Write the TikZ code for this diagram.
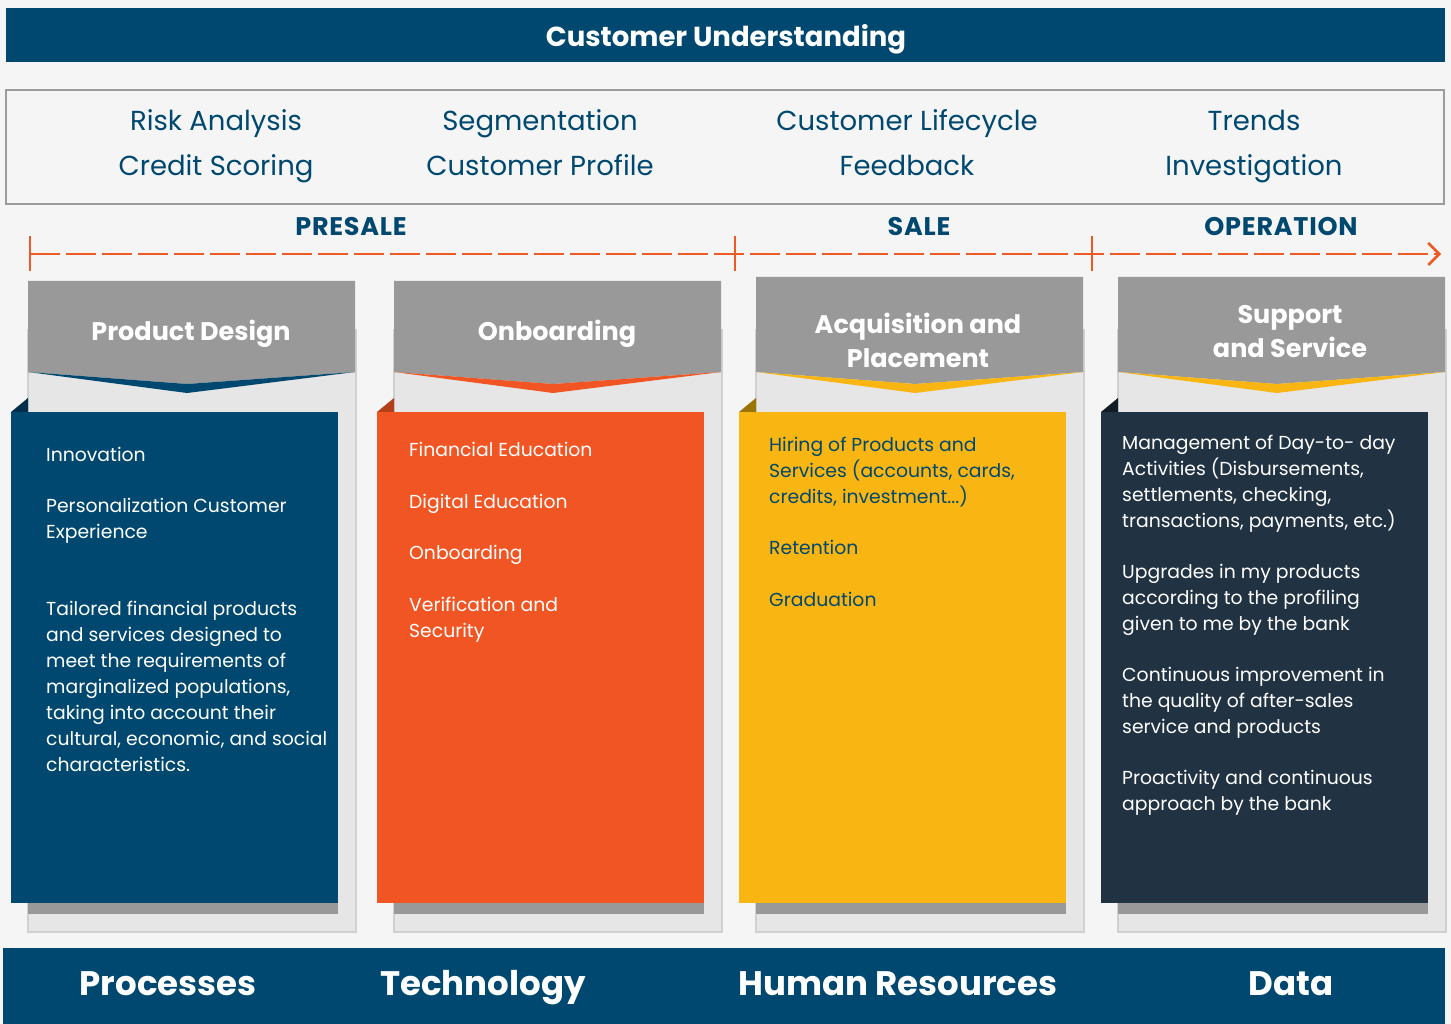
\documentclass[tikz,border=0pt]{standalone}
\usepackage{fontspec}
\setmainfont{Poppins}
\newfontfamily\widefont{Poppins}[LetterSpace=3]
\usetikzlibrary{arrows.meta}
\definecolor{bg}{HTML}{F5F5F5}
\definecolor{dblue}{HTML}{00486F}
\definecolor{dbluefold}{HTML}{00304B}
\definecolor{orng}{HTML}{F05523}
\definecolor{orngfold}{HTML}{B3401A}
\definecolor{yell}{HTML}{F9B613}
\definecolor{yellfold}{HTML}{9A7405}
\definecolor{navy}{HTML}{213243}
\definecolor{navyfold}{HTML}{121C26}
\definecolor{hdrgray}{HTML}{999999}
\definecolor{cardgray}{HTML}{E6E6E6}
\definecolor{cardline}{HTML}{D0D0D0}
\definecolor{boxline}{HTML}{9B9B9B}
\definecolor{arrowor}{HTML}{EE5A24}
\tikzset{
  bodytxt/.style={anchor=north west, inner sep=0pt, align=left, font=\fontsize{18.8}{26}\selectfont},
  hdrtxt/.style={anchor=north, inner sep=0pt, align=center, text=white, font=\fontsize{25.5}{34}\selectfont\bfseries},
  hdronetxt/.style={anchor=base, inner sep=0pt, text=white, font=\fontsize{25.5}{34}\selectfont\bfseries},
  phasetxt/.style={anchor=base, inner sep=0pt, text=dblue, font=\widefont\fontsize{25.5}{30}\selectfont\bfseries},
  toptxt/.style={anchor=base, inner sep=0pt, text=dblue, font=\fontsize{27.5}{34}\selectfont},
  bandtxt/.style={anchor=base, inner sep=0pt, text=white, font=\fontsize{34}{40}\selectfont\bfseries},
  tickline/.style={draw=arrowor, line width=2.5pt},
}
% #1 card left x, #2 header top y, #3 box colour, #4 fold colour, #5 chevron colour
\newcommand{\mkcolumn}[5]{%
  \pgfmathsetmacro{\xl}{#1}
  \pgfmathsetmacro{\xr}{#1+327}
  \pgfmathsetmacro{\cx}{#1+159}
  \pgfmathsetmacro{\bl}{#1-17}
  \pgfmathsetmacro{\br}{#1+310}
  \fill[cardgray, draw=cardline, line width=2pt] (\xl,330) rectangle (\xr+1,932);
  \fill[hdrgray] (\xl,#2) -- (\xr,#2) -- (\xr,372) -- (\cx,384) -- (\xl,372) -- cycle;
  \fill[#5] (\xl,372) -- (\cx,384) -- (\xr,372) -- (\cx,393) -- cycle;
  \fill[hdrgray] (\xl,914) rectangle (\br,903);
  \fill[#4] (\bl,412) -- (\xl,398) -- (\xl,412) -- cycle;
  \fill[#3] (\bl,412) rectangle (\br,903);
}
\begin{document}
\begin{tikzpicture}[x=1pt,y=-1pt]
\useasboundingbox[fill=bg] (0,0) rectangle (1451,1024);
% top band
\fill[dblue] (6,8) rectangle (1445,62);
\node[anchor=base, inner sep=0pt, text=white, font=\fontsize{27.5}{30}\selectfont\bfseries] (title) at (726,47) {Customer Understanding};
% top box
\draw[boxline, line width=2.5pt] (6,90) rectangle (1444,204);
\node[toptxt] (ra) at (216,131) {Risk Analysis};
\node[toptxt] (cs) at (216,176) {Credit Scoring};
\node[toptxt] (sg) at (540,131) {Segmentation};
\node[toptxt] (cp) at (540,176) {Customer Profile};
\node[toptxt] (cl) at (907,131) {Customer Lifecycle};
\node[toptxt] (fb) at (907,176) {Feedback};
\node[toptxt] (tr) at (1254,131) {Trends};
\node[toptxt] (iv) at (1254,176) {Investigation};
% phases
\node[phasetxt] (presale) at (351,236) {PRESALE};
\node[phasetxt] (sale) at (919,236) {SALE};
\node[phasetxt] (oper) at (1281,236) {OPERATION};
\coordinate (a0) at (30,254);
\coordinate (a1) at (735,254);
\coordinate (a2) at (1092,254);
\coordinate (aend) at (1441,254);
\draw[arrowor, line width=2.5pt, dash pattern=on 30pt off 6pt, -{Straight Barb[length=11pt,width=22pt,line width=2.5pt]}] (a0) -- (aend);
\draw[tickline] ([yshift=-17pt]a0) -- ([yshift=18pt]a0);
\draw[tickline] ([yshift=-17pt]a1) -- ([yshift=18pt]a1);
\draw[tickline] ([yshift=-17pt]a2) -- ([yshift=18pt]a2);
% columns
\mkcolumn{28}{281}{dblue}{dbluefold}{dblue}
\mkcolumn{394}{281}{orng}{orngfold}{orng}
\mkcolumn{756}{277}{yell}{yellfold}{yell}
\mkcolumn{1118}{277}{navy}{navyfold}{yell}
% headers
\node[hdronetxt] (h1) at (191,340) {Product Design};
\node[hdronetxt] (h2) at (557,340) {Onboarding};
\node[hdrtxt] (h3) at (918,333-23.8) {\strut Acquisition and\\Placement};
\node[hdrtxt] (h4) at (1290,323-23.8) {\strut Support\\and Service};
% column 1 text
\node[bodytxt, text=white] (c1a) at (46,461-18.2) {\strut Innovation};
\node[bodytxt, text=white] (c1b) at (46,512-18.2) {\strut Personalization Customer\\Experience};
\node[bodytxt, text=white] (c1c) at (46,615-18.2) {\strut Tailored financial products\\and services designed to\\meet the requirements of\\marginalized populations,\\taking into account their\\cultural, economic, and social\\characteristics.};
% column 2 text
\node[bodytxt, text=white] (c2a) at (409,456-18.2) {\strut Financial Education};
\node[bodytxt, text=white] (c2b) at (409,508-18.2) {\strut Digital Education};
\node[bodytxt, text=white] (c2c) at (409,559-18.2) {\strut Onboarding};
\node[bodytxt, text=white] (c2d) at (409,611-18.2) {\strut Verification and\\Security};
% column 3 text
\node[bodytxt, text=dblue] (c3a) at (769,451-18.2) {\strut Hiring of Products and\\Services (accounts, cards,\\credits, investment...)};
\node[bodytxt, text=dblue] (c3b) at (769,554-18.2) {\strut Retention};
\node[bodytxt, text=dblue] (c3c) at (769,606-18.2) {\strut Graduation};
% column 4 text
\node[bodytxt, text=white] (c4a) at (1122,449-18.2) {\strut Management of Day-to- day\\Activities (Disbursements,\\settlements, checking,\\transactions, payments, etc.)};
\node[bodytxt, text=white] (c4b) at (1122,578-18.2) {\strut Upgrades in my products\\according to the profiling\\given to me by the bank};
\node[bodytxt, text=white] (c4c) at (1122,681-18.2) {\strut Continuous improvement in\\the quality of after-sales\\service and products};
\node[bodytxt, text=white] (c4d) at (1122,784-18.2) {\strut Proactivity and continuous\\approach by the bank};
% bottom band
\fill[dblue] (3,948) rectangle (1445,1024);
\node[bandtxt] (b1) at (168,995) {Processes};
\node[bandtxt] (b2) at (483,995) {Technology};
\node[bandtxt] (b3) at (898,995) {Human Resources};
\node[bandtxt] (b4) at (1291,995) {Data};
\end{tikzpicture}
\end{document}
